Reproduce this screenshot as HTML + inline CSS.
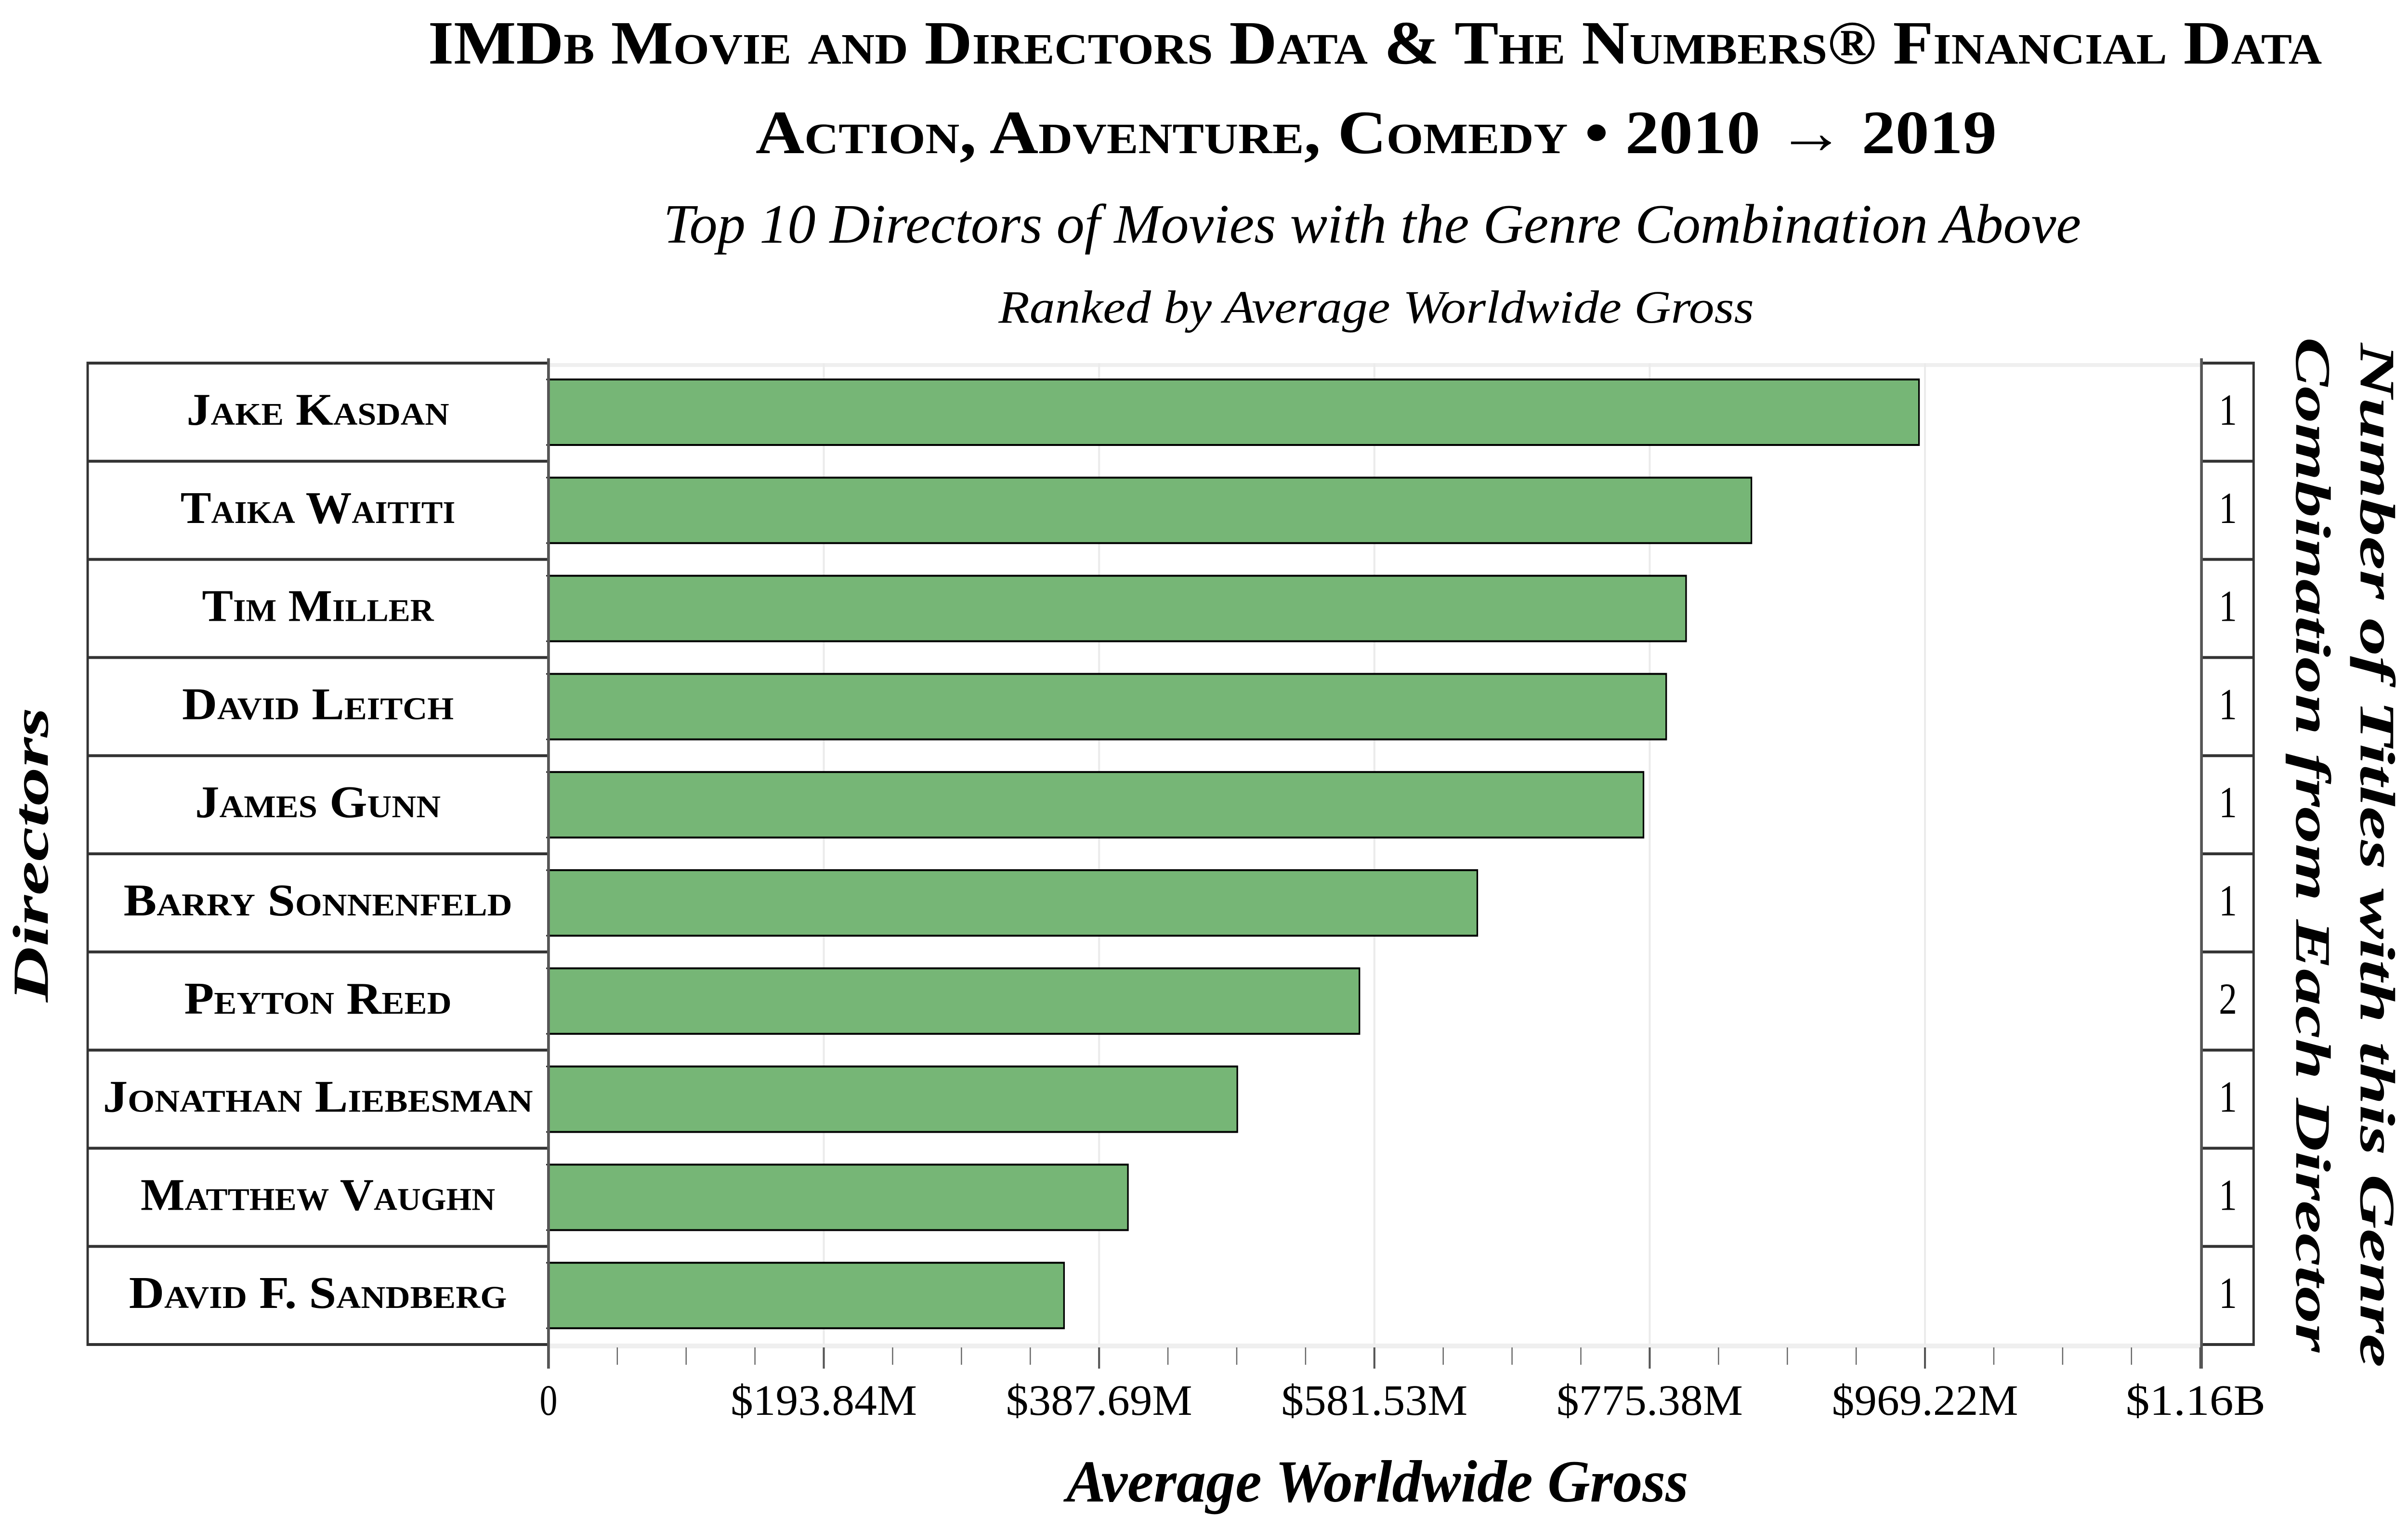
<!DOCTYPE html>
<html><head><meta charset="utf-8"><style>
html,body{margin:0;padding:0;background:#fff;overflow:hidden;width:100%;height:100%;}
svg{display:block;width:100vw;height:100vh;}
text{font-family:"Liberation Serif",serif;fill:#000;}
</style></head><body>
<svg id="chart" xmlns="http://www.w3.org/2000/svg" viewBox="0 0 6098 3173" preserveAspectRatio="none">
<rect x="0" y="0" width="6098" height="3173" fill="#fff"/>
<g>
<text x="3482" y="132" text-anchor="middle" font-size="128" font-weight="bold" style="font-variant:small-caps" textLength="4796" lengthAdjust="spacingAndGlyphs">IMDb Movie and Directors Data &amp; The Numbers® Financial Data</text>
<text x="3485" y="318" text-anchor="middle" font-size="128" font-weight="bold" style="font-variant:small-caps" textLength="3143" lengthAdjust="spacingAndGlyphs">Action, Adventure, Comedy • 2010 → 2019</text>
<text x="3475" y="504" text-anchor="middle" font-size="116" font-style="italic" textLength="3590" lengthAdjust="spacingAndGlyphs">Top 10 Directors of Movies with the Genre Combination Above</text>
<text x="3485" y="670" text-anchor="middle" font-size="96" font-style="italic" textLength="1913" lengthAdjust="spacingAndGlyphs">Ranked by Average Worldwide Gross</text>
</g>
<g id="grid"></g>
<g id="bars"></g>
<g id="left"></g>
<g id="right"></g>
<g id="xaxis"></g>
<text x="3488" y="3118" text-anchor="middle" font-size="124" font-weight="bold" font-style="italic" textLength="1575" lengthAdjust="spacingAndGlyphs">Average Worldwide Gross</text>
<text transform="translate(121,1775) rotate(-90)" text-anchor="middle" font-size="128" font-weight="bold" font-style="italic" textLength="612" lengthAdjust="spacingAndGlyphs">Directors</text>
<text transform="translate(5978,1776) rotate(90)" text-anchor="middle" font-size="126" font-weight="bold" font-style="italic" textLength="2127" lengthAdjust="spacingAndGlyphs">Number of Titles with this Genre</text>
<text transform="translate(5815,1754) rotate(90)" text-anchor="middle" font-size="126" font-weight="bold" font-style="italic" textLength="2108" lengthAdjust="spacingAndGlyphs">Combination from Each Director</text>
</svg>
<script>
const directors = ["Jake Kasdan","Taika Waititi","Tim Miller","David Leitch","James Gunn","Barry Sonnenfeld","Peyton Reed","Jonathan Liebesman","Matthew Vaughn","David F. Sandberg"];
const grossM = [965, 847, 801, 787, 771, 654, 571, 485, 408, 363];
const titleCounts = [1,1,1,1,1,1,2,1,1,1];
const tickValuesM = [0, 193.84, 387.69, 581.53, 775.38, 969.22, 1163.07];
const tickLabels = ["0","$193.84M","$387.69M","$581.53M","$775.38M","$969.22M","$1.16B"];
const labelWidths = [665,696,587,688,622,984,677,1089,898,957];

const NS="http://www.w3.org/2000/svg";
const X0=1389, X1=5572, DMAX=1163.07;
const Y0=754, ROWH=203.8;
const x = v => X0 + (v/DMAX)*(X1-X0);
const rowY = i => Y0 + i*ROWH;
function mk(parent, tag, attrs){const e=document.createElementNS(NS,tag);for(const k in attrs)e.setAttribute(k,attrs[k]);parent.appendChild(e);return e;}
const grid=document.getElementById('grid'), bars=document.getElementById('bars'), left=document.getElementById('left'), right=document.getElementById('right'), xaxis=document.getElementById('xaxis');
const YB = rowY(directors.length);

let e=mk(grid,'rect',{x:X0,y:Y0,width:X1-X0,height:8,fill:'#efefef'});


e=mk(grid,'rect',{x:X0,y:YB-2,width:X1-X0,height:10,fill:'#efefef'});


tickValuesM.forEach((v,i)=>{ if(i===0||i===tickValuesM.length-1) return;
  const g=mk(grid,'line',{x1:x(v),x2:x(v),y1:Y0,y2:YB,stroke:'#ebebeb','stroke-width':5});
  
  
});

directors.forEach((d,i)=>{
  const r=mk(bars,'rect',{x:X0,y:rowY(i)+34,width:x(grossM[i])-X0,height:136,fill:'#76b676',stroke:'#000','stroke-width':4});
  
  
  const c=mk(left,'rect',{x:222,y:rowY(i),width:X0-222,height:ROWH,fill:'#fff',stroke:'none'});
  
  
  const t=mk(left,'text',{x:805,y:rowY(i)+128,'text-anchor':'middle','font-size':94,'font-weight':'bold',style:'font-variant:small-caps',textLength:labelWidths[i],lengthAdjust:'spacingAndGlyphs'});
  t.textContent=d;
  
  
  const n=mk(right,'text',{x:5642,y:rowY(i)+128,'text-anchor':'middle','font-size':92});
  n.textContent=titleCounts[i];
  
  
  [34,170].forEach(o=>{const k=mk(left,'line',{x1:X0-6,x2:X0,y1:rowY(i)+o,y2:rowY(i)+o,stroke:'#222','stroke-width':3});
    
    });
});
for(let i=0;i<=directors.length;i++){
  const y=rowY(i);
  const s=mk(left,'line',{x1:222,x2:X0,y1:y,y2:y,stroke:'#333','stroke-width':6});
  
  
  const s2=mk(right,'line',{x1:5575,x2:5708,y1:y,y2:y,stroke:'#333','stroke-width':6});
  
  
}
e=mk(left,'line',{x1:222,x2:222,y1:Y0-3,y2:YB+3,stroke:'#333','stroke-width':6});


e=mk(left,'line',{x1:X0,x2:X0,y1:Y0-10,y2:YB+50,stroke:'#555','stroke-width':7});


e=mk(right,'line',{x1:5575,x2:5575,y1:Y0-10,y2:YB+50,stroke:'#555','stroke-width':7});


e=mk(right,'line',{x1:5707,x2:5707,y1:Y0-3,y2:YB+3,stroke:'#333','stroke-width':6});



for(let j=0;j<tickValuesM.length-1;j++){
  for(let m=1;m<4;m++){
    const v=tickValuesM[j]+(tickValuesM[j+1]-tickValuesM[j])*m/4;
    const k=mk(xaxis,'line',{x1:x(v),x2:x(v),y1:YB+6,y2:YB+42,stroke:'#666','stroke-width':3});
    
    
  }
}
tickValuesM.forEach((v,i)=>{
  const k=mk(xaxis,'line',{x1:x(v),x2:x(v),y1:YB+6,y2:YB+50,stroke:'#555','stroke-width':5});
  
  
  const attrs={x:x(v)-(i===tickValuesM.length-1?12:0),y:2938,'text-anchor':'middle','font-size':90};
  if(tickLabels[i].length>1){attrs.textLength=tickLabels[i].length*59;attrs.lengthAdjust='spacingAndGlyphs';}
  const t=mk(xaxis,'text',attrs);
  t.textContent=tickLabels[i];
  
  
});
</script>
</body></html>
